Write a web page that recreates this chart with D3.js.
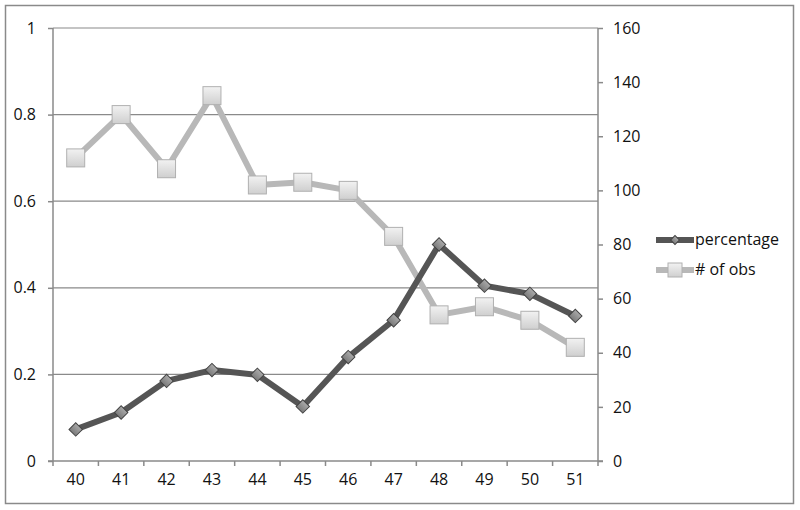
<!DOCTYPE html>
<meta charset="utf-8" />
<html>
<head>
    <style>
        body { margin: 0; background: #fff; }
        text { font-family: "Open Sans", "Liberation Sans", sans-serif; font-size: 16px; fill: #111; }
        .grid line { stroke: #8a8a8a; stroke-width: 1.2px; }
        .axis line { stroke: #8a8a8a; stroke-width: 1.5px; }
    </style>
</head>
<body>
    <svg width="800" height="510"></svg>
    <script src="https://d3js.org/d3.v7.min.js"></script>
    <script>
        // data
        var ages = ["40", "41", "42", "43", "44", "45", "46", "47", "48", "49", "50", "51"];
        var percentage = [0.073, 0.112, 0.185, 0.21, 0.199, 0.126, 0.24, 0.325, 0.5, 0.405, 0.386, 0.335];
        var obs = [112, 128, 108, 135, 102, 103, 100, 83, 54, 57, 52, 42];
        var leftTicks = [0, 0.2, 0.4, 0.6, 0.8, 1];
        var rightTicks = [0, 20, 40, 60, 80, 100, 120, 140, 160];
        var seriesNames = ["percentage", "# of obs"];

        var svg = d3.select("svg");

        // outer frame
        svg.append("rect")
            .attr("x", 5.5).attr("y", 5.5)
            .attr("width", 788).attr("height", 498)
            .attr("fill", "none")
            .attr("stroke", "#8a8a8a")
            .attr("stroke-width", 1.5);

        var plotLeft = 53, plotRight = 598, plotTop = 28, plotBottom = 461;

        var x = d3.scaleBand().domain(ages).range([plotLeft, plotRight]);
        var yL = d3.scaleLinear().domain([0, 1]).range([plotBottom, plotTop]);
        var yR = d3.scaleLinear().domain([0, 160]).range([plotBottom, plotTop]);

        // gridlines
        svg.append("g")
            .attr("class", "grid")
            .selectAll("line")
            .data(leftTicks.slice(1))
            .enter()
            .append("line")
            .attr("x1", plotLeft).attr("x2", plotRight)
            .attr("y1", function (d) { return yL(d); })
            .attr("y2", function (d) { return yL(d); });

        var gL = svg.append("g")
            .attr("class", "axis")
            .attr("transform", "translate(" + plotLeft + ",0)")
            .call(d3.axisLeft(yL).tickValues(leftTicks).tickSize(5).tickPadding(12)
                .tickFormat(d3.format("")));

        var gR = svg.append("g")
            .attr("class", "axis")
            .attr("transform", "translate(" + plotRight + ",0)")
            .call(d3.axisRight(yR).tickValues(rightTicks).tickSize(5).tickPadding(10));

        var gB = svg.append("g")
            .attr("class", "axis")
            .attr("transform", "translate(0," + plotBottom + ")")
            .call(d3.axisBottom(x).tickSize(0).tickPadding(13));

        // ticks between categories
        gB.selectAll(".sep")
            .data(ages.slice(1))
            .enter()
            .append("line")
            .attr("class", "sep")
            .attr("x1", function (d) { return x(d); })
            .attr("x2", function (d) { return x(d); })
            .attr("y1", 0).attr("y2", 5);

        [gL, gR, gB].forEach(function (g) {
            g.select(".domain").remove();
            g.selectAll("text").style("font-size", "16px").attr("fill", "#111");
        });
        svg.append("line").attr("x1", plotLeft).attr("x2", plotLeft).attr("y1", plotTop).attr("y2", plotBottom + 5)
            .attr("stroke", "#8a8a8a").attr("stroke-width", 1.5);
        svg.append("line").attr("x1", plotRight).attr("x2", plotRight).attr("y1", plotTop).attr("y2", plotBottom + 5)
            .attr("stroke", "#8a8a8a").attr("stroke-width", 1.5);
        svg.append("line").attr("x1", plotLeft - 5).attr("x2", plotRight + 5).attr("y1", plotBottom).attr("y2", plotBottom)
            .attr("stroke", "#8a8a8a").attr("stroke-width", 1.5);

        var defs = svg.append("defs");
        var sq = defs.append("linearGradient").attr("id", "sqg").attr("x1", 0).attr("y1", 0).attr("x2", 0).attr("y2", 1);
        sq.append("stop").attr("offset", "0%").attr("stop-color", "#f2f2f2");
        sq.append("stop").attr("offset", "100%").attr("stop-color", "#cfcfcf");
        var dg = defs.append("linearGradient").attr("id", "dmg").attr("x1", 0).attr("y1", 0).attr("x2", 0).attr("y2", 1);
        dg.append("stop").attr("offset", "0%").attr("stop-color", "#aaaaaa");
        dg.append("stop").attr("offset", "100%").attr("stop-color", "#7a7a7a");

        var cx = function (d, i) { return x(ages[i]) + x.bandwidth() / 2; };

        // # of obs (right axis)
        var lineR = d3.line().x(cx).y(function (d) { return yR(d); });
        svg.append("path").datum(obs)
            .attr("d", lineR)
            .attr("fill", "none")
            .attr("stroke", "#b8b8b8")
            .attr("stroke-width", 6)
            .attr("stroke-linejoin", "round");

        // percentage (left axis)
        var lineL = d3.line().x(cx).y(function (d) { return yL(d); });
        svg.append("path").datum(percentage)
            .attr("d", lineL)
            .attr("fill", "none")
            .attr("stroke", "#555555")
            .attr("stroke-width", 6)
            .attr("stroke-linejoin", "round");

        svg.append("g").selectAll("rect")
            .data(obs)
            .enter()
            .append("rect")
            .attr("x", function (d, i) { return cx(d, i) - 9; })
            .attr("y", function (d) { return yR(d) - 9; })
            .attr("width", 18).attr("height", 18)
            .attr("fill", "url(#sqg)")
            .attr("stroke", "#b0b0b0")
            .attr("stroke-width", 1);

        var diamond = d3.symbol().type(d3.symbolSquare).size(90);
        svg.append("g").selectAll("path")
            .data(percentage)
            .enter()
            .append("path")
            .attr("d", diamond)
            .attr("transform", function (d, i) { return "translate(" + cx(d, i) + "," + yL(d) + ") rotate(45)"; })
            .attr("fill", "url(#dmg)")
            .attr("stroke", "#444")
            .attr("stroke-width", 1);

        // legend
        var legend = svg.append("g").selectAll("g")
            .data(seriesNames)
            .enter()
            .append("g")
            .attr("transform", function (d, i) { return "translate(656," + (240 + i * 30) + ")"; });
        legend.append("line")
            .attr("x1", 0).attr("x2", 38).attr("y1", 0).attr("y2", 0)
            .attr("stroke", function (d, i) { return i === 0 ? "#555555" : "#b8b8b8"; })
            .attr("stroke-width", 6);
        legend.filter(function (d, i) { return i === 0; })
            .append("path")
            .attr("d", d3.symbol().type(d3.symbolSquare).size(40))
            .attr("transform", "translate(19,0) rotate(45)")
            .attr("fill", "url(#dmg)")
            .attr("stroke", "#444");
        legend.filter(function (d, i) { return i === 1; })
            .append("rect")
            .attr("x", 12).attr("y", -7).attr("width", 14).attr("height", 14)
            .attr("fill", "url(#sqg)")
            .attr("stroke", "#b0b0b0");
        legend.append("text")
            .attr("x", 39).attr("y", 5)
            .text(function (d) { return d; });
    </script>
</body>
</html>
